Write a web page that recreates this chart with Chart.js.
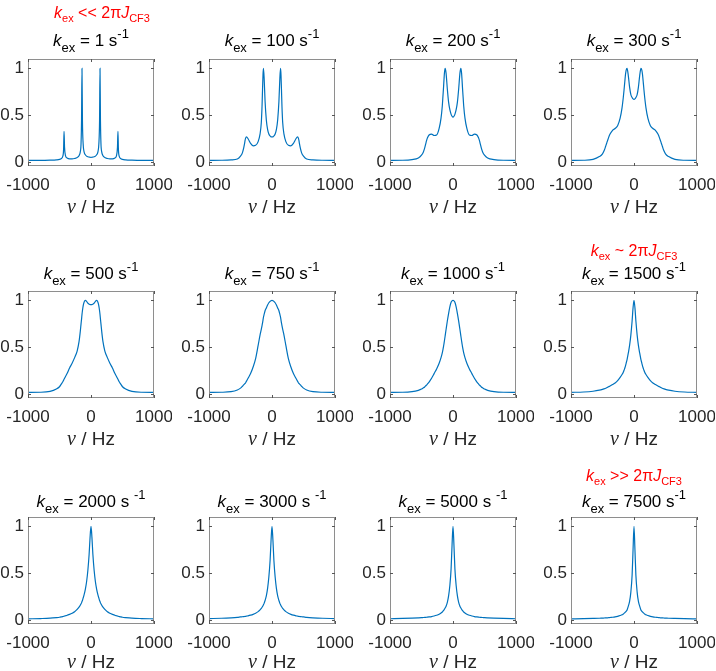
<!DOCTYPE html>
<html>
<head>
<meta charset="utf-8">
<script src="https://cdn.jsdelivr.net/npm/chart.js@4.4.1/dist/chart.umd.min.js"></script>
<style>
  html, body { margin: 0; padding: 0; background: #fff; }
  #wrap { position: relative; width: 716px; height: 671px; overflow: hidden; }
  #wrap canvas { position: absolute; }
</style>
</head>
<body>
<div id="wrap"></div>
<script>
// frequency axis (Hz), shared by all panels
const nu = [-1000,-800,-650,-550,-500,-470,-450,-435,-428,-420,-405,-380,-340,-300,-260,-220,-190,-170,-158,-150,-143,-136,-125,-110,-90,-70,-50,-30,-15,
  0,15,30,50,70,90,110,125,136,143,150,158,170,190,220,260,300,340,380,405,420,428,435,450,470,500,550,650,800,1000];

// exchange rates (s^-1), one panel each
const kex = [1, 100, 200, 300, 500, 750, 1000, 1500, 2000, 3000, 5000, 7500];

// normalised intensity
const k1 = [0.02,0.02,0.022,0.025,0.03,0.04,0.06,0.14,0.33,0.16,0.07,0.045,0.035,0.035,0.04,0.05,0.07,0.11,0.2,0.45,1.0,0.45,0.2,0.11,0.08,0.065,0.058,0.055,0.053,
  0.052,0.053,0.055,0.058,0.065,0.08,0.11,0.2,0.45,1.0,0.45,0.2,0.11,0.07,0.05,0.04,0.035,0.035,0.045,0.07,0.16,0.33,0.14,0.06,0.04,0.03,0.025,0.022,0.02,0.02];
const k100 = [0.02,0.021,0.025,0.035,0.065,0.1,0.15,0.2,0.23,0.255,0.27,0.25,0.2,0.175,0.18,0.22,0.3,0.42,0.6,0.78,0.93,1.0,0.9,0.65,0.45,0.35,0.3,0.28,0.27,
  0.27,0.27,0.28,0.3,0.35,0.45,0.65,0.9,1.0,0.93,0.78,0.6,0.42,0.3,0.22,0.18,0.175,0.2,0.25,0.27,0.255,0.23,0.2,0.15,0.1,0.065,0.035,0.025,0.021,0.02];
const k200 = [0.02,0.021,0.028,0.045,0.075,0.11,0.15,0.19,0.21,0.23,0.26,0.29,0.3,0.285,0.29,0.36,0.47,0.6,0.72,0.8,0.88,0.95,1.0,0.95,0.78,0.64,0.56,0.51,0.49,
  0.48,0.49,0.51,0.56,0.64,0.78,0.95,1.0,0.95,0.88,0.8,0.72,0.6,0.47,0.36,0.29,0.285,0.3,0.29,0.26,0.23,0.21,0.19,0.15,0.11,0.075,0.045,0.028,0.021,0.02];
const k300 = [0.02,0.021,0.03,0.06,0.09,0.13,0.17,0.2,0.215,0.23,0.26,0.3,0.34,0.36,0.39,0.47,0.58,0.69,0.77,0.83,0.88,0.93,0.98,1.0,0.92,0.8,0.72,0.69,0.675,
  0.67,0.675,0.69,0.72,0.8,0.92,1.0,0.98,0.93,0.88,0.83,0.77,0.69,0.58,0.47,0.39,0.36,0.34,0.3,0.26,0.23,0.215,0.2,0.17,0.13,0.09,0.06,0.03,0.021,0.02];
const k500 = [0.02,0.021,0.03,0.055,0.08,0.11,0.13,0.15,0.16,0.17,0.19,0.22,0.28,0.33,0.39,0.46,0.56,0.67,0.75,0.8,0.85,0.89,0.94,0.98,1.0,0.99,0.97,0.96,0.955,
  0.955,0.955,0.96,0.97,0.99,1.0,0.98,0.94,0.89,0.85,0.8,0.75,0.67,0.56,0.46,0.39,0.33,0.28,0.22,0.19,0.17,0.16,0.15,0.13,0.11,0.08,0.055,0.03,0.021,0.02];
const k750 = [0.02,0.021,0.027,0.045,0.065,0.085,0.1,0.11,0.115,0.12,0.14,0.17,0.22,0.29,0.38,0.52,0.63,0.69,0.73,0.76,0.79,0.82,0.85,0.89,0.92,0.95,0.975,0.99,0.997,
  1.0,0.997,0.99,0.975,0.95,0.92,0.89,0.85,0.82,0.79,0.76,0.73,0.69,0.63,0.52,0.38,0.29,0.22,0.17,0.14,0.12,0.115,0.11,0.1,0.085,0.065,0.045,0.027,0.021,0.02];
const k1000 = [0.02,0.021,0.028,0.042,0.055,0.068,0.078,0.088,0.093,0.098,0.11,0.13,0.17,0.22,0.27,0.33,0.39,0.44,0.48,0.51,0.54,0.57,0.62,0.69,0.78,0.86,0.93,0.98,0.995,
  1.0,0.995,0.98,0.93,0.86,0.78,0.69,0.62,0.57,0.54,0.51,0.48,0.44,0.39,0.33,0.27,0.22,0.17,0.13,0.11,0.098,0.093,0.088,0.078,0.068,0.055,0.042,0.028,0.021,0.02];
const k1500 = [0.02,0.024,0.032,0.043,0.052,0.059,0.064,0.069,0.071,0.074,0.08,0.088,0.103,0.12,0.145,0.18,0.21,0.235,0.255,0.27,0.285,0.3,0.33,0.37,0.44,0.52,0.63,0.78,0.92,
  1.0,0.92,0.78,0.63,0.52,0.44,0.37,0.33,0.3,0.285,0.27,0.255,0.235,0.21,0.18,0.145,0.12,0.103,0.088,0.08,0.074,0.071,0.069,0.064,0.059,0.052,0.043,0.032,0.024,0.02];
const k2000 = [0.015,0.018,0.022,0.028,0.032,0.036,0.039,0.042,0.043,0.045,0.048,0.053,0.062,0.074,0.09,0.115,0.14,0.16,0.175,0.185,0.2,0.21,0.235,0.27,0.33,0.41,0.53,0.7,0.88,
  1.0,0.88,0.7,0.53,0.41,0.33,0.27,0.235,0.21,0.2,0.185,0.175,0.16,0.14,0.115,0.09,0.074,0.062,0.053,0.048,0.045,0.043,0.042,0.039,0.036,0.032,0.028,0.022,0.018,0.015];
const k3000 = [0.018,0.021,0.026,0.031,0.035,0.037,0.039,0.04,0.041,0.042,0.044,0.047,0.054,0.063,0.075,0.092,0.11,0.126,0.138,0.147,0.155,0.165,0.18,0.21,0.26,0.34,0.46,0.64,0.85,
  1.0,0.85,0.64,0.46,0.34,0.26,0.21,0.18,0.165,0.155,0.147,0.138,0.126,0.11,0.092,0.075,0.063,0.054,0.047,0.044,0.042,0.041,0.04,0.039,0.037,0.035,0.031,0.026,0.021,0.018];
const k5000 = [0.016,0.019,0.022,0.025,0.027,0.029,0.03,0.031,0.031,0.032,0.033,0.035,0.039,0.045,0.053,0.064,0.077,0.088,0.097,0.104,0.11,0.118,0.13,0.15,0.19,0.26,0.37,0.55,0.8,
  1.0,0.8,0.55,0.37,0.26,0.19,0.15,0.13,0.118,0.11,0.104,0.097,0.088,0.077,0.064,0.053,0.045,0.039,0.035,0.033,0.032,0.031,0.031,0.03,0.029,0.027,0.025,0.022,0.019,0.016];
const k7500 = [0.015,0.017,0.019,0.021,0.023,0.024,0.025,0.025,0.026,0.026,0.027,0.029,0.032,0.036,0.042,0.05,0.058,0.067,0.073,0.078,0.083,0.088,0.095,0.11,0.15,0.2,0.3,0.48,0.75,
  1.0,0.75,0.48,0.3,0.2,0.15,0.11,0.095,0.088,0.083,0.078,0.073,0.067,0.058,0.05,0.042,0.036,0.032,0.029,0.027,0.026,0.026,0.025,0.025,0.024,0.023,0.021,0.019,0.017,0.015];

const spectra = [k1, k100, k200, k300, k500, k750, k1000, k1500, k2000, k3000, k5000, k7500];

const xTicks = [-1000, 0, 1000];
const yTicks = [0, 0.5, 1];

// red regime notes over some panels (relation sign between kex and 2*pi*J_CF3)
const notes = ['<<', null, null, null, null, null, null, '~', null, null, null, '>>'];
// a few titles have a gap before the exponent
const unitGap = [false, false, false, false, false, false, false, false, true, true, true, false];

// layout
const boxLeft = [28, 209, 390, 571];
const boxTop = [59, 291, 517];
const titleDy = [13, 12, 10];
const noteDy = [41, 35, 36];
const xlabDy = [47, 47, 44];
const BW = 126, BH = 107, PL = 28, PT = 59, AXH = 55, PR = 18;
const SANS = '"Liberation Sans", Arial, sans-serif';
const SERIF = '"Liberation Serif", "Times New Roman", serif';

function drawRich(ctx, parts, cx, baseY, color) {
  let w = 0;
  parts.forEach(p => { ctx.font = p.f; p.w = ctx.measureText(p.t).width; w += p.w; });
  let x = cx - w / 2;
  ctx.fillStyle = color;
  ctx.textAlign = 'left';
  ctx.textBaseline = 'alphabetic';
  parts.forEach(p => { ctx.font = p.f; ctx.fillText(p.t, x, baseY + (p.dy || 0)); x += p.w; });
}

const deco = {
  id: 'deco',
  afterDraw(chart, args, o) {
    const {ctx, chartArea: a, scales: {x, y}} = chart;
    ctx.save();
    // box
    ctx.strokeStyle = '#8e8e8e';
    ctx.lineWidth = 1;
    ctx.strokeRect(a.left + 0.5, a.top + 0.5, a.width - 1, a.height - 1);
    // inward ticks
    ctx.strokeStyle = '#555';
    ctx.beginPath();
    xTicks.forEach(v => {
      const px = Math.round(x.getPixelForValue(v)) + 0.5;
      ctx.moveTo(px, a.top); ctx.lineTo(px, a.top + 3);
      ctx.moveTo(px, a.bottom); ctx.lineTo(px, a.bottom - 3);
    });
    yTicks.forEach(v => {
      const py = Math.round(y.getPixelForValue(v)) + 0.5;
      ctx.moveTo(a.left, py); ctx.lineTo(a.left + 3, py);
      ctx.moveTo(a.right, py); ctx.lineTo(a.right - 3, py);
    });
    ctx.stroke();
    const cx = (a.left + a.right) / 2;
    // title
    drawRich(ctx, [
      {t: 'k', f: 'italic 17px ' + SANS},
      {t: 'ex', f: '13px ' + SANS, dy: 6},
      {t: ' = ' + o.k + ' s' + (o.gap ? ' ' : ''), f: '17px ' + SANS},
      {t: '-1', f: '13px ' + SANS, dy: -8}
    ], cx, a.top - o.titleDy, '#000');
    // regime note
    if (o.note) {
      drawRich(ctx, [
        {t: 'k', f: 'italic 16px ' + SANS},
        {t: 'ex', f: '11px ' + SANS, dy: 4},
        {t: ' ' + o.note + ' 2\u03c0', f: '16px ' + SANS},
        {t: 'J', f: 'italic 16px ' + SANS},
        {t: 'CF3', f: '11px ' + SANS, dy: 4}
      ], cx + o.noteDx, a.top - o.noteDy, '#ff0000');
    }
    // x axis label
    drawRich(ctx, [
      {t: '\u03bd', f: 'italic 20px ' + SERIF},
      {t: ' / Hz', f: '19px ' + SANS}
    ], cx, a.bottom + o.xlabDy, '#262626');
    ctx.restore();
  }
};

const wrap = document.getElementById('wrap');
kex.forEach((k, i) => {
  const r = Math.floor(i / 4), c = i % 4;
  const cv = document.createElement('canvas');
  const W = PL + BW + PR, H = PT + BH + AXH;
  cv.width = W; cv.height = H;
  cv.style.left = (boxLeft[c] - PL) + 'px';
  cv.style.top = (boxTop[r] - PT) + 'px';
  cv.style.width = W + 'px'; cv.style.height = H + 'px';
  wrap.appendChild(cv);
  const ys = spectra[i];
  new Chart(cv, {
    type: 'line',
    data: {
      datasets: [{
        data: nu.map((v, j) => ({x: v, y: ys[j]})),
        borderColor: '#0072BD', borderWidth: 1.2,
        pointRadius: 0, fill: false,
        cubicInterpolationMode: 'monotone'
      }]
    },
    options: {
      responsive: false, animation: false, devicePixelRatio: 1,
      layout: { padding: { top: PT, right: PR, left: 0, bottom: 0 } },
      plugins: {
        legend: { display: false }, tooltip: { enabled: false },
        deco: { k: k, gap: unitGap[i], note: notes[i], noteDx: i === 0 ? 11 : 0,
          noteDy: noteDy[r], titleDy: titleDy[r], xlabDy: xlabDy[r] }
      },
      scales: {
        x: {
          type: 'linear', min: -1000, max: 1000,
          grid: { display: false, drawTicks: false, tickLength: 0 }, border: { display: false },
          afterBuildTicks: s => { s.ticks = xTicks.map(v => ({value: v})); },
          afterFit: s => { s.height = AXH; s.paddingLeft = 0; s.paddingRight = 0; },
          ticks: { autoSkip: false, maxRotation: 0, padding: 9, color: '#262626',
            font: { family: SANS, size: 17 }, callback: v => String(v) }
        },
        y: {
          type: 'linear', min: -0.04, max: 1.1,
          grid: { display: false, drawTicks: false, tickLength: 0 }, border: { display: false },
          afterBuildTicks: s => { s.ticks = yTicks.map(v => ({value: v})); },
          afterFit: s => { s.width = PL; s.paddingTop = 0; s.paddingBottom = 0; },
          ticks: { padding: 4, color: '#262626',
            font: { family: SANS, size: 17 }, callback: v => String(v) }
        }
      }
    },
    plugins: [deco]
  });
});
</script>
</body>
</html>
